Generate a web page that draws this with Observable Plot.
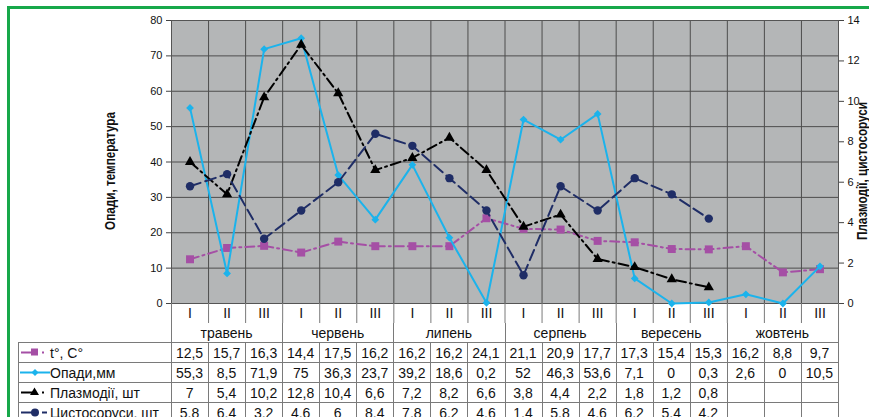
<!DOCTYPE html>
<html><head><meta charset="utf-8">
<script src="https://cdn.jsdelivr.net/npm/d3@7"></script>
<script src="https://cdn.jsdelivr.net/npm/@observablehq/plot@0.6"></script>
<style>
html,body{margin:0;padding:0;background:#fff;}
#wrap{position:relative;width:869px;height:417px;overflow:hidden;font-family:"Liberation Sans",Arial,sans-serif;}
#wrap svg{position:absolute;left:0;top:0;}
#frame{position:absolute;left:7px;top:6px;width:1000px;height:1000px;border:3px solid #17a84a;box-sizing:border-box;}
.cell{position:absolute;box-sizing:border-box;display:flex;align-items:center;justify-content:center;font-size:14px;color:#111;white-space:nowrap;}
.lab{justify-content:flex-start;}
.hl{position:absolute;height:1px;background:#7a7a7a;}
.vl{position:absolute;width:1px;background:#7a7a7a;}
.title{position:absolute;font-weight:bold;font-size:15px;line-height:17px;white-space:nowrap;transform:translate(-50%,-50%) rotate(-90deg) scale(0.78,1);color:#111;}
</style></head><body><div id="wrap"></div>
<script>
const decades = ["I","II","III"];
const months = ["травень","червень","липень","серпень","вересень","жовтень"];
const temp  = [12.5,15.7,16.3,14.4,17.5,16.2,16.2,16.2,24.1,21.1,20.9,17.7,17.3,15.4,15.3,16.2,8.8,9.7];
const rain  = [55.3,8.5,71.9,75,36.3,23.7,39.2,18.6,0.2,52,46.3,53.6,7.1,0,0.3,2.6,0,10.5];
const plasm = [7,5.4,10.2,12.8,10.4,6.6,7.2,8.2,6.6,3.8,4.4,2.2,1.8,1.2,0.8];
const cyst  = [5.8,6.4,3.2,4.6,6,8.4,7.8,6.2,4.6,1.4,5.8,4.6,6.2,5.4,4.2];
const seriesNames = ["t°, C°","Опади,мм","Плазмодії, шт","Цистосоруси, шт"];
const leftTitle = "Опади, температура";
const rightTitle = "Плазмодії, цистосоруси";
const leftTicks = [0,10,20,30,40,50,60,70,80];
const rightTicks = [0,2,4,6,8,10,12,14];

const C = {t:"#a54fa5", r:"#1bb3ec", p:"#000000", c:"#1f2d66"};
const N = months.length * decades.length;
const K = 80/14;
const toRows = arr => arr.map((v,i)=>({x:i+0.5, v}));
const tD = toRows(temp), rD = toRows(rain), pD = toRows(plasm), cD = toRows(cyst);

const plot = Plot.plot({
  width: 869, height: 417,
  marginTop: 20, marginBottom: 114, marginLeft: 171, marginRight: 31,
  x: {type:"linear", domain:[0,N]},
  y: {domain:[0,80]},
  style: {background:"transparent", fontFamily:"Liberation Sans, Arial, sans-serif", color:"#111"},
  marks: [
    Plot.frame({fill:"#b4b6b7"}),
    Plot.ruleY(leftTicks.filter(v=>v>0), {stroke:"#4d4d4d", strokeWidth:1}),
    Plot.ruleX(d3.range(1,N), {stroke:"#4d4d4d", strokeWidth:1}),
    Plot.frame({stroke:"#555"}),
    Plot.axisY(leftTicks, {anchor:"left", tickSize:5, tickPadding:4, fontSize:11, label:null, stroke:"#444"}),
    Plot.axisY(rightTicks.map(v=>v*K), {anchor:"right", tickSize:5, tickPadding:4, fontSize:11, label:null, stroke:"#444", tickFormat:t=>String(Math.round(t/K))}),
    Plot.axisX(d3.range(0,N+1), {anchor:"bottom", tickSize:20, tickFormat:()=>"", label:null, stroke:"#7a7a7a"}),
    Plot.axisX(d3.range(N).map(i=>i+0.5), {anchor:"bottom", tickSize:0, tickPadding:5, fontSize:14, label:null, tickFormat:t=>decades[Math.floor(t)%3]}),
    Plot.line(tD, {x:"x", y:"v", stroke:C.t, strokeWidth:2, strokeDasharray:"9,4,2,4"}),
    Plot.dot(tD, {x:"x", y:"v", symbol:"square", fill:C.t, r:4.5}),
    Plot.line(rD, {x:"x", y:"v", stroke:C.r, strokeWidth:2}),
    Plot.dot(rD, {x:"x", y:"v", symbol:"diamond2", fill:C.r, r:3.5}),
    Plot.line(pD, {x:"x", y:d=>d.v*K, stroke:C.p, strokeWidth:2, strokeDasharray:"10,4,2,4"}),
    Plot.dot(pD, {x:"x", y:d=>d.v*K, symbol:"triangle", fill:C.p, r:3.8}),
    Plot.line(cD, {x:"x", y:d=>d.v*K, stroke:C.c, strokeWidth:2, strokeDasharray:"11,5"}),
    Plot.dot(cD, {x:"x", y:d=>d.v*K, symbol:"circle", fill:C.c, r:4.2})
  ]
});

const wrap = document.getElementById("wrap");
wrap.appendChild(plot);
const X = plot.scale("x").apply;
function add(cls, style, text){
  const d = document.createElement("div");
  d.className = cls; Object.assign(d.style, style);
  if (text != null) d.textContent = text;
  wrap.appendChild(d); return d;
}
const px = v => v + "px";
const left0 = 18, rowTop = 342, rowH = 20, monthTop = 323;
const xR = X(N);

// month row
months.forEach((m,k)=>{
  add("cell", {left:px(X(3*k)), top:px(monthTop), width:px(X(3*k+3)-X(3*k)), height:px(19)}, m);
});
for (let k=0;k<=months.length;k++) add("vl", {left:px(Math.round(X(3*k))-0.5), top:px(monthTop), height:px(rowTop-monthTop)});

// data rows
const rows = [temp, rain, plasm, cyst];
for (let r=0;r<=rows.length;r++) add("hl", {left:px(left0), top:px(rowTop+r*rowH), width:px(xR-left0+0.5)});
add("vl", {left:px(left0), top:px(rowTop), height:px(100)});
for (let k=0;k<=N;k++) add("vl", {left:px(Math.round(X(k))-0.5), top:px(rowTop), height:px(100)});
const fmt = v => String(v).replace(".", ",");
rows.forEach((arr,r)=>{
  for (let i=0;i<N;i++){
    add("cell", {left:px(X(i)), top:px(rowTop+r*rowH+1), width:px(X(i+1)-X(i)), height:px(rowH-1)}, i<arr.length ? fmt(arr[i]) : "");
  }
  add("cell lab", {left:px(50), top:px(rowTop+r*rowH+1), width:px(120), height:px(rowH-1)}, seriesNames[r]);
});

// legend samples
const ns = "http://www.w3.org/2000/svg";
function sample(r){
  const s = document.createElementNS(ns, "svg");
  s.setAttribute("width", 31); s.setAttribute("height", 19);
  s.style.position = "absolute"; s.style.left = px(19); s.style.top = px(rowTop+r*rowH+1);
  const mk = (tag, at) => { const e = document.createElementNS(ns, tag); for (const k in at) e.setAttribute(k, at[k]); s.appendChild(e); return e; };
  const y = 9.5;
  if (r===0){
    mk("line",{x1:2,x2:14,y1:y,y2:y,stroke:C.t,"stroke-width":2});
    mk("rect",{x:12,y:y-4,width:7,height:7,fill:C.t});
    mk("rect",{x:23,y:y-1,width:2,height:2,fill:C.t});
  } else if (r===1){
    mk("line",{x1:1,x2:31,y1:y,y2:y,stroke:C.r,"stroke-width":2});
    mk("path",{d:`M16,${y-3.5}L19.5,${y}L16,${y+3.5}L12.5,${y}Z`,fill:C.r});
  } else if (r===2){
    mk("line",{x1:2,x2:14,y1:y,y2:y,stroke:C.p,"stroke-width":2});
    mk("path",{d:`M15.5,${y-5}L20,${y+2.5}L11,${y+2.5}Z`,fill:C.p});
    mk("rect",{x:23,y:y-1,width:2,height:2,fill:C.p});
  } else {
    mk("line",{x1:2,x2:14,y1:y,y2:y,stroke:C.c,"stroke-width":2});
    mk("circle",{cx:16,cy:y,r:4,fill:C.c});
    mk("line",{x1:23,x2:28,y1:y,y2:y,stroke:C.c,"stroke-width":2});
  }
  wrap.appendChild(s);
}
[0,1,2,3].forEach(sample);

// titles
add("title", {left:px(109), top:px(171)}, leftTitle);
add("title", {left:px(861), top:px(171)}, rightTitle);

// green frame
const fr = document.createElement("div"); fr.id = "frame"; wrap.appendChild(fr);
</script>
</body></html>
